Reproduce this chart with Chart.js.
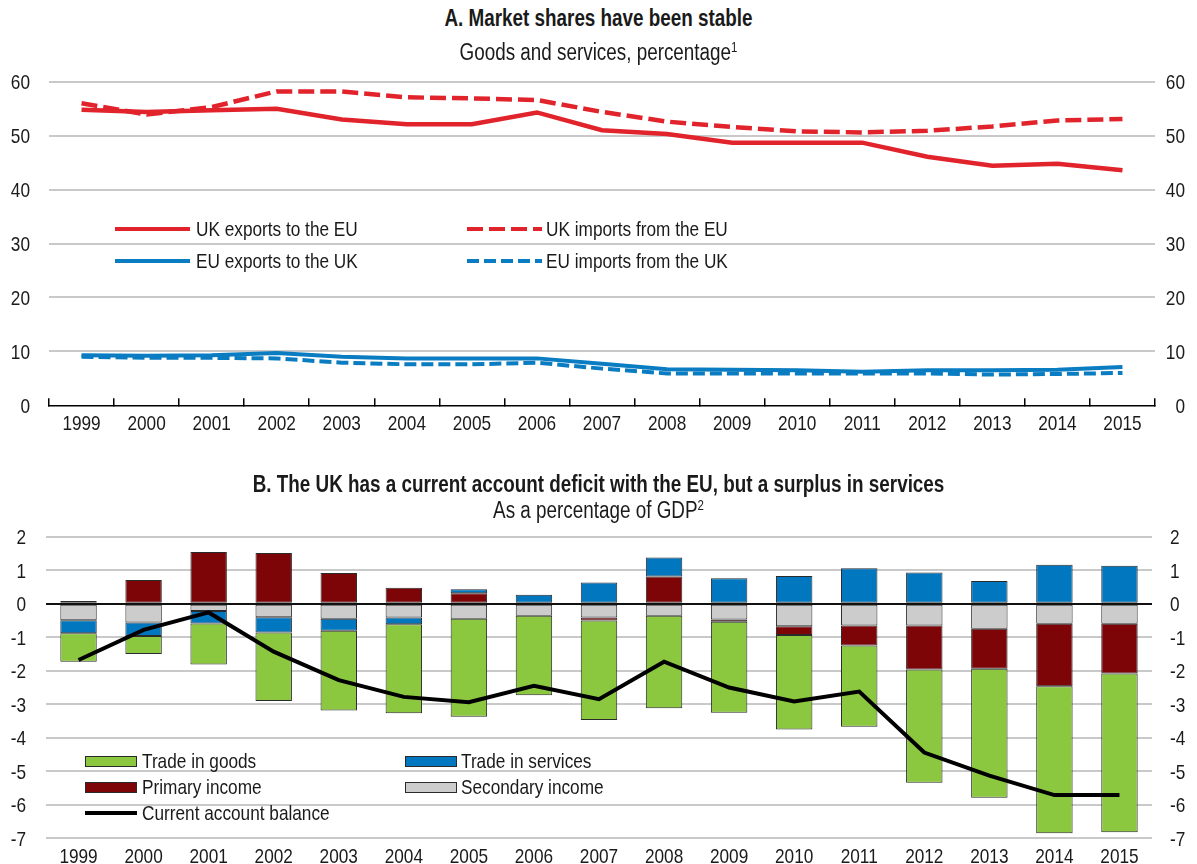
<!DOCTYPE html>
<html>
<head>
<meta charset="utf-8">
<script src="https://cdn.jsdelivr.net/npm/chart.js@4.4.1/dist/chart.umd.min.js"></script>
<style>
    html, body { margin: 0; padding: 0; background: #fff; }
    body {
        width: 1197px; height: 864px; position: relative; overflow: hidden;
        font-family: 'Liberation Sans', Arial, sans-serif;
        color: #1a1a1a;
    }
    .title, .sub {
        position: absolute; left: 0; width: 1197px; text-align: center;
        font-size: 23px; line-height: 26px; z-index: 2;
        transform: scaleX(0.82); transform-origin: center center;
    }
    .title { font-weight: bold; }
    .sub sup { font-size: 14px; line-height: 0; vertical-align: 8px; }
    .wrap { position: absolute; left: 0; width: 1197px; z-index: 1; }
    .leg {
        position: absolute; font-size: 21px; line-height: 24px; white-space: nowrap; z-index: 3;
        transform: scaleX(0.82); transform-origin: left center;
    }
    .swatch { position: absolute; z-index: 3; }
</style>
</head>
<body>

<div class="title" style="top:5px">A. Market shares have been stable</div>
<div class="sub" style="top:39px">Goods and services, percentage<sup>1</sup></div>
<div class="wrap" style="top:60px;height:390px"><canvas id="chartA" width="1197" height="390"></canvas></div>

<div class="title" style="top:471px">B. The UK has a current account deficit with the EU, but a surplus in services</div>
<div class="sub" style="top:497px">As a percentage of GDP<sup>2</sup></div>
<div class="wrap" style="top:470px;height:394px"><canvas id="chartB" width="1197" height="394"></canvas></div>

<!-- legend, panel A -->
<div class="swatch" style="left:115px;top:227px;width:75px;height:4px;background:#e1232b"></div>
<div class="leg" style="left:196px;top:217px">UK exports to the EU</div>
<div class="swatch" style="left:467px;top:227px;width:75px;height:4px;background:repeating-linear-gradient(90deg,#e1232b 0 16px,transparent 16px 22px)"></div>
<div class="leg" style="left:546px;top:217px">UK imports from the EU</div>
<div class="swatch" style="left:115px;top:259px;width:75px;height:4px;background:#0a7cc1"></div>
<div class="leg" style="left:196px;top:249px">EU exports to the UK</div>
<div class="swatch" style="left:467px;top:259px;width:75px;height:4px;background:repeating-linear-gradient(90deg,#0a7cc1 0 12px,transparent 12px 17px)"></div>
<div class="leg" style="left:546px;top:249px">EU imports from the UK</div>

<!-- legend, panel B -->
<div class="swatch" style="left:85px;top:756px;width:50px;height:9px;background:#8cc83f;border:1px solid #2a2a2a"></div>
<div class="leg" style="left:142px;top:749px">Trade in goods</div>
<div class="swatch" style="left:405px;top:756px;width:50px;height:9px;background:#0077be;border:1px solid #2a2a2a"></div>
<div class="leg" style="left:461px;top:749px">Trade in services</div>
<div class="swatch" style="left:85px;top:782px;width:50px;height:9px;background:#7d0508;border:1px solid #2a2a2a"></div>
<div class="leg" style="left:142px;top:775px">Primary income</div>
<div class="swatch" style="left:405px;top:782px;width:50px;height:9px;background:#cccccc;border:1px solid #2a2a2a"></div>
<div class="leg" style="left:461px;top:775px">Secondary income</div>
<div class="swatch" style="left:85px;top:811px;width:52px;height:4px;background:#000"></div>
<div class="leg" style="left:142px;top:801px">Current account balance</div>

<script>
// Categories
const years = ['1999', '2000', '2001', '2002', '2003', '2004', '2005', '2006', '2007',
               '2008', '2009', '2010', '2011', '2012', '2013', '2014', '2015'];

// Panel A: market shares, %
const ukExportsToEU   = [54.8, 54.4, 54.7, 55.0, 53.0, 52.1, 52.1, 54.3, 51.0, 50.3, 48.7, 48.7, 48.7, 46.1, 44.4, 44.8, 43.6];
const ukImportsFromEU = [56.0, 53.9, 55.3, 58.2, 58.2, 57.1, 56.9, 56.6, 54.4, 52.6, 51.6, 50.8, 50.6, 50.9, 51.7, 52.8, 53.1];
const euExportsToUK   = [9.3, 9.2, 9.3, 9.7, 9.0, 8.7, 8.7, 8.7, 7.7, 6.7, 6.6, 6.5, 6.2, 6.5, 6.5, 6.6, 7.1];
const euImportsFromUK = [9.0, 8.8, 8.8, 8.7, 7.9, 7.6, 7.6, 7.9, 6.8, 5.9, 5.9, 5.9, 5.9, 5.9, 5.7, 5.8, 6.0];
const shareTicks = { min: 0, max: 60, step: 10 };

// Panel B: current account components, % of GDP
const tradeInGoods    = [-0.85, -0.54, -1.22, -2.04, -2.38, -2.66, -2.92, -2.37, -2.97, -2.76, -2.71, -2.82, -2.42, -3.38, -3.85, -4.39, -4.74];
const tradeInServices = [-0.39, -0.40, -0.37, -0.46, -0.36, -0.20, 0.12, 0.27, 0.63, 0.57, 0.76, 0.83, 1.06, 0.93, 0.68, 1.16, 1.13];
const primaryIncome   = [0.08, 0.71, 1.54, 1.51, 0.92, 0.48, 0.31, 0, -0.09, 0.81, -0.07, -0.26, -0.60, -1.31, -1.19, -1.86, -1.48];
const secondaryIncome = [-0.49, -0.56, -0.22, -0.40, -0.45, -0.41, -0.45, -0.36, -0.41, -0.36, -0.47, -0.67, -0.65, -0.65, -0.75, -0.60, -0.60];
const currentAccount  = [-1.68, -0.78, -0.26, -1.43, -2.28, -2.78, -2.94, -2.45, -2.85, -1.73, -2.50, -2.92, -2.62, -4.44, -5.13, -5.71, -5.71];
const gdpTicks = { min: -7, max: 2, step: 1 };

const FONT = "'Liberation Sans', Arial, sans-serif";
const NARROW = 0.82; // no narrow face installed, so squeeze the regular one

Chart.defaults.font.family = FONT;
Chart.defaults.font.size = 21;
Chart.defaults.color = '#1a1a1a';
Chart.defaults.animation = false;

const gridGrey = '#c9c9c9';

// draw one squeezed label
function narrowText(ctx, text, x, y, align) {
    ctx.save();
    ctx.translate(x, y);
    ctx.scale(NARROW, 1);
    ctx.textAlign = align;
    ctx.fillText(text, 0, 0);
    ctx.restore();
}

// tick labels drawn by hand so they can be condensed like Arial Narrow
const narrowLabels = {
    id: 'narrowLabels',
    afterDraw(chart, args, o) {
        const ctx = chart.ctx;
        ctx.save();
        ctx.font = o.size + 'px ' + FONT;
        ctx.fillStyle = '#1a1a1a';
        ctx.textBaseline = 'alphabetic';
        const half = o.size * 0.358;
        const xs = chart.scales.x;
        xs.ticks.forEach((t, i) => {
            narrowText(ctx, String(xs.getLabelForValue(t.value)), xs.getPixelForTick(i), o.xLabelY + half, 'center');
        });
        ['y', 'y2'].forEach(id => {
            const s = chart.scales[id];
            s.ticks.forEach(t => {
                narrowText(ctx, t.label, o[id].x, s.getPixelForValue(t.value) + half, o[id].align);
            });
        });
        ctx.restore();
    }
};

// ---- Panel A ----
new Chart(document.getElementById('chartA'), {
    type: 'line',
    data: {
        labels: years,
        datasets: [
            { data: ukExportsToEU, borderColor: '#e1232b', borderWidth: 4.5 },
            { data: ukImportsFromEU, borderColor: '#e1232b', borderWidth: 4.5, borderDash: [16, 6] },
            { data: euExportsToUK, borderColor: '#0a7cc1', borderWidth: 4 },
            { data: euImportsFromUK, borderColor: '#0a7cc1', borderWidth: 4, borderDash: [12, 5] }
        ].map(d => Object.assign(d, { pointRadius: 0, tension: 0, fill: false, yAxisID: 'y' }))
    },
    plugins: [narrowLabels],
    options: {
        responsive: false,
        layout: { padding: { top: 21.7, left: 0, right: 0, bottom: 0 } },
        plugins: {
            legend: { display: false },
            tooltip: { enabled: false },
            narrowLabels: { size: 21, xLabelY: 362.7, y: { x: 30, align: 'right' }, y2: { x: 1185, align: 'right' } }
        },
        scales: {
            x: {
                offset: true,
                grid: { offset: true, drawOnChartArea: false, drawTicks: true, tickLength: -7, color: '#000', lineWidth: 1.5 },
                border: { display: true, color: '#000', width: 1.5 },
                ticks: { display: false, autoSkip: false },
                afterFit: s => { s.height = 44.7; }
            },
            y: {
                position: 'left',
                min: shareTicks.min, max: shareTicks.max,
                ticks: { stepSize: shareTicks.step, display: false },
                grid: { drawTicks: false, lineWidth: 2, color: c => c.tick.value === 0 ? 'rgba(0,0,0,0)' : gridGrey },
                border: { display: false },
                afterFit: s => { s.width = 49; }
            },
            y2: {
                position: 'right',
                min: shareTicks.min, max: shareTicks.max,
                ticks: { stepSize: shareTicks.step, display: false },
                grid: { display: false, drawTicks: false },
                border: { display: false },
                afterFit: s => { s.width = 42; }
            }
        }
    }
});

// ---- Panel B ----
const barStyle = { type: 'bar', borderColor: '#2a2a2a', borderWidth: 1, borderSkipped: false,
                   barPercentage: 0.56, categoryPercentage: 1.0, stack: 'ca' };

new Chart(document.getElementById('chartB'), {
    type: 'bar',
    data: {
        labels: years,
        datasets: [
            { type: 'line', label: 'Current account balance', data: currentAccount, borderColor: '#000',
              borderWidth: 4, pointRadius: 0, tension: 0, stack: 'line', fill: false },
            Object.assign({ label: 'Secondary income', data: secondaryIncome, backgroundColor: '#cccccc' }, barStyle),
            Object.assign({ label: 'Primary income', data: primaryIncome, backgroundColor: '#7d0508' }, barStyle),
            Object.assign({ label: 'Trade in services', data: tradeInServices, backgroundColor: '#0077be' }, barStyle),
            Object.assign({ label: 'Trade in goods', data: tradeInGoods, backgroundColor: '#8cc83f' }, barStyle)
        ]
    },
    plugins: [narrowLabels],
    options: {
        responsive: false,
        layout: { padding: { top: 66.7, left: 0, right: 0, bottom: 0 } },
        plugins: {
            legend: { display: false },
            tooltip: { enabled: false },
            narrowLabels: { size: 21, xLabelY: 385.5, y: { x: 26, align: 'right' }, y2: { x: 1170, align: 'left' } }
        },
        scales: {
            x: {
                stacked: true,
                grid: { display: false, drawTicks: false },
                border: { display: false },
                ticks: { display: false, autoSkip: false },
                afterFit: s => { s.height = 25.7; }
            },
            y: {
                stacked: true,
                position: 'left',
                min: gdpTicks.min, max: gdpTicks.max,
                ticks: { stepSize: gdpTicks.step, display: false },
                grid: { drawTicks: false, lineWidth: 2,
                        color: c => c.tick.value === 0 ? '#111' : gridGrey },
                border: { display: false },
                afterFit: s => { s.width = 46; }
            },
            y2: {
                position: 'right',
                min: gdpTicks.min, max: gdpTicks.max,
                ticks: { stepSize: gdpTicks.step, display: false },
                grid: { display: false, drawTicks: false },
                border: { display: false },
                afterFit: s => { s.width = 45; }
            }
        }
    }
});
</script>
</body>
</html>
